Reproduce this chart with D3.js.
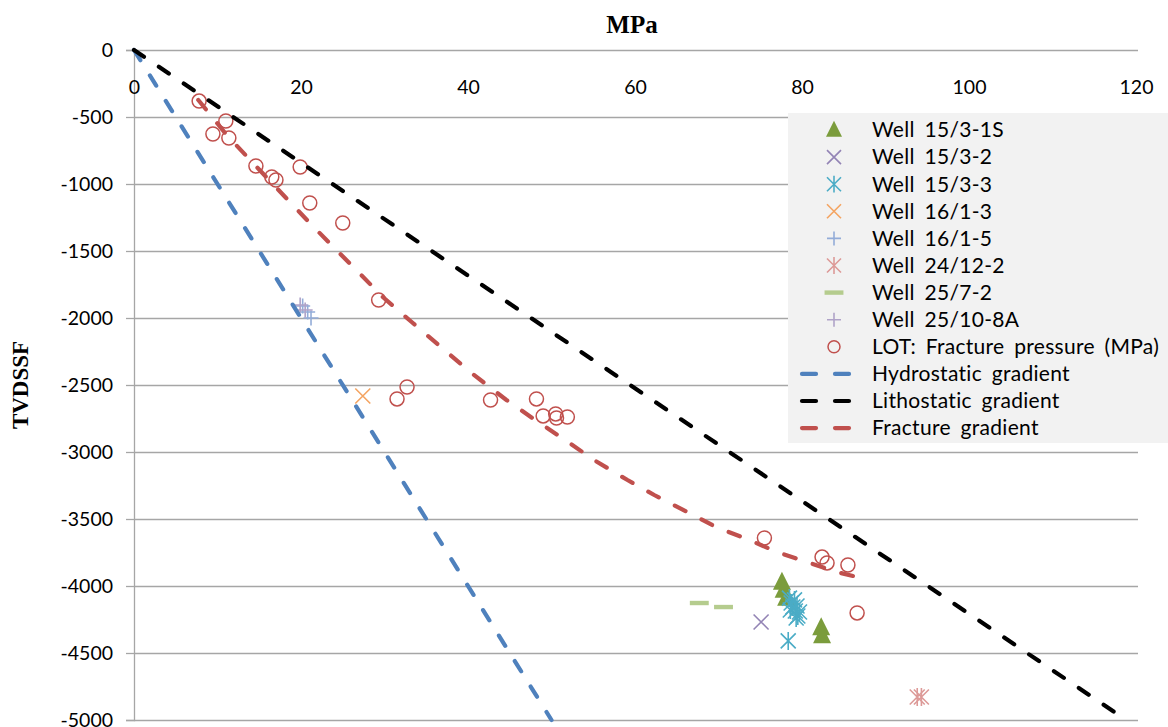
<!DOCTYPE html>
<html>
<head>
<meta charset="utf-8">
<script src="https://cdn.jsdelivr.net/npm/d3@7"></script>
<style>
  html, body { margin: 0; padding: 0; background: #fff; }
  svg { display: block; }
  .tick text { font-family: Lato, "Open Sans", sans-serif; font-size: 19.5px; fill: #000; }
  .legend text { font-family: Lato, "Open Sans", sans-serif; font-size: 21px; letter-spacing: 0.3px; word-spacing: 4px; fill: #000; }
  .title { font-family: "Liberation Serif", "DejaVu Serif", serif; font-weight: bold; }
</style>
</head>
<body>
<svg id="chart" width="1168" height="727"></svg>
<script>
// Pressure (MPa) vs. true vertical depth below sea floor (m)

const xTicks = [0, 20, 40, 60, 80, 100, 120];
const yTicks = [0, -500, -1000, -1500, -2000, -2500, -3000, -3500, -4000, -4500, -5000];

// Well pressure measurements [MPa, TVDSSF]
const well15_3_1S = [[77.6, -3970], [77.8, -4030], [78.1, -4090], [82.3, -4310], [82.4, -4370]];
const well15_3_2 = [[75.1, -4269]];
const well15_3_3 = [[78.5, -4090], [78.7, -4127], [78.9, -4157], [79.2, -4187], [79.4, -4149],
                    [79.1, -4104], [79.5, -4224], [79.3, -4239], [78.6, -4179], [79.7, -4194],
                    [78.35, -4410]];
const well16_1_3 = [[27.4, -2582]];
const well16_1_5 = [[20.2, -1910], [20.8, -1955], [21.2, -2000]];
const well24_12_2 = [[93.8, -4828], [94.3, -4828]];
const well25_7_2 = [[67.7, -4127], [70.6, -4157]];
const well25_10_8A = [[19.9, -1903], [20.5, -1940]];

// Leak-off tests: fracture pressure [MPa, TVDSSF]
const lotFracture = [
  [7.8, -381], [11.0, -530], [9.45, -627], [11.36, -657], [14.6, -866], [16.5, -948],
  [17.0, -970], [19.9, -873], [21.05, -1142], [25.0, -1291], [29.3, -1866], [32.7, -2515],
  [31.5, -2604], [42.7, -2612], [48.2, -2604], [49.0, -2731], [50.5, -2716], [50.6, -2746],
  [51.9, -2739], [75.5, -3642], [82.4, -3784], [83.0, -3828], [85.5, -3843], [86.6, -4201]
];

// Gradient curves [MPa, TVDSSF]
const hydrostatic = [[0, 0], [50, -5000]];
const lithostatic = [[0, 0], [118, -4965]];
const fractureGradient = [
  [7.7, -373], [11.1, -634], [14.7, -873], [21.05, -1291], [29.8, -1843], [33.25, -2030],
  [37.6, -2261], [40.4, -2410], [44.6, -2612], [47.7, -2746], [52.15, -2933], [55.1, -3060],
  [59.1, -3209], [62.3, -3321], [66.5, -3455], [69.7, -3560], [73.4, -3649], [77.0, -3746],
  [80.9, -3828], [84.2, -3896], [86.6, -3933]
];

const svg = d3.select("#chart");
const x = d3.scaleLinear().domain([0, 120]).range([134, 1136]);
const y = d3.scaleLinear().domain([0, -5000]).range([50, 720]);

// horizontal gridlines
svg.append("g")
  .attr("transform", `translate(${x(0)},0)`)
  .call(d3.axisLeft(y).tickValues(yTicks).tickSize(-(x(120) - x(0) + 2)).tickFormat(""))
  .call(g => g.select(".domain").remove())
  .call(g => g.selectAll(".tick line").attr("stroke", "#a6a6a6").attr("stroke-width", 1.3));

// y axis with labels
svg.append("g")
  .attr("transform", `translate(${x(0)},0)`)
  .call(d3.axisLeft(y).tickValues(yTicks).tickSize(8).tickPadding(13).tickFormat(d => String(d)))
  .call(g => g.select(".domain").attr("stroke", "#a6a6a6").attr("stroke-width", 1.3))
  .call(g => g.selectAll(".tick line").attr("stroke", "#a6a6a6").attr("stroke-width", 1.3));

// x axis labels, placed just under the top axis line
svg.append("g")
  .attr("transform", `translate(0,${y(0)})`)
  .call(d3.axisBottom(x).tickValues(xTicks).tickSize(0).tickPadding(30).tickFormat(d => String(d)))
  .call(g => g.select(".domain").remove());

svg.append("text").attr("class", "title").style("font-size", "25px")
  .attr("x", 632).attr("y", 33).attr("text-anchor", "middle").text("MPa");
svg.append("text").attr("class", "title").style("font-size", "23px")
  .attr("transform", `translate(28,${(y(0) + y(-5000)) / 2}) rotate(-90)`)
  .attr("text-anchor", "middle").text("TVDSSF");

// marker shapes
function marker(sel, type, color, s) {
  const h = s / 2;
  if (type === "triangle") {
    sel.append("path").attr("d", `M0,${-h * 1.15}L${h},${h * 0.85}L${-h},${h * 0.85}Z`).attr("fill", color);
  } else if (type === "x") {
    sel.append("path").attr("d", `M${-h},${-h}L${h},${h}M${-h},${h}L${h},${-h}`)
      .attr("stroke", color).attr("stroke-width", 1.6);
  } else if (type === "star") {
    sel.append("path").attr("d", `M${-h},${-h}L${h},${h}M${-h},${h}L${h},${-h}M0,${-h * 1.2}L0,${h * 1.2}`)
      .attr("stroke", color).attr("stroke-width", 1.6);
  } else if (type === "plus") {
    sel.append("path").attr("d", `M${-h},0L${h},0M0,${-h}L0,${h}`)
      .attr("stroke", color).attr("stroke-width", 1.6);
  } else if (type === "dash") {
    sel.append("rect").attr("x", -h * 1.35).attr("y", -2.2).attr("width", h * 2.7).attr("height", 4.4).attr("fill", color);
  } else if (type === "circle") {
    sel.append("circle").attr("r", h).attr("fill", "none").attr("stroke", color).attr("stroke-width", 1.5);
  }
}

const pointSeries = [
  { name: "Well 15/3-1S", data: well15_3_1S, type: "triangle", color: "#7b9c3c", size: 18 },
  { name: "Well 15/3-2", data: well15_3_2, type: "x", color: "#9384b5", size: 15 },
  { name: "Well 15/3-3", data: well15_3_3, type: "star", color: "#4bacc6", size: 15 },
  { name: "Well 16/1-3", data: well16_1_3, type: "x", color: "#f4a462", size: 15 },
  { name: "Well 16/1-5", data: well16_1_5, type: "plus", color: "#93acd8", size: 15 },
  { name: "Well 24/12-2", data: well24_12_2, type: "star", color: "#dd9a98", size: 15 },
  { name: "Well 25/7-2", data: well25_7_2, type: "dash", color: "#b5cc8e", size: 14 },
  { name: "Well 25/10-8A", data: well25_10_8A, type: "plus", color: "#b0a3c8", size: 15 },
  { name: "LOT: Fracture pressure (MPa)", data: lotFracture, type: "circle", color: "#c0504d", size: 14 }
];

const lineSeries = [
  { name: "Hydrostatic gradient", data: hydrostatic, color: "#4f81bd" },
  { name: "Lithostatic gradient", data: lithostatic, color: "#000000" },
  { name: "Fracture gradient", data: fractureGradient, color: "#c0504d" }
];

const plot = svg.append("g");
pointSeries.forEach(s => {
  plot.append("g").selectAll("g").data(s.data).join("g")
    .attr("transform", d => `translate(${x(d[0])},${y(d[1])})`)
    .each(function () { marker(d3.select(this), s.type, s.color, s.size); });
});

const line = d3.line().x(d => x(d[0])).y(d => y(d[1]));
lineSeries.forEach(s => {
  plot.append("path").datum(s.data).attr("d", line)
    .attr("fill", "none").attr("stroke", s.color).attr("stroke-width", 4.2)
    .attr("stroke-linecap", "round").attr("stroke-dasharray", "12,18");
});

// legend
const legend = svg.append("g").attr("class", "legend");
legend.append("rect").attr("x", 788).attr("y", 113).attr("width", 380).attr("height", 330).attr("fill", "#f2f2f2");
const entries = pointSeries.map(s => ({ ...s, kind: "point" }))
  .concat(lineSeries.map(s => ({ ...s, kind: "line" })));
entries.forEach((e, i) => {
  const cy = 130 + i * 27.1;
  const g = legend.append("g").attr("transform", `translate(0,${cy})`);
  if (e.kind === "point") {
    const m = g.append("g").attr("transform", "translate(834,0)");
    marker(m, e.type, e.color, e.type === "circle" ? 12 : e.type === "triangle" ? 16 : 14);
  } else {
    g.append("line").attr("x1", 802).attr("x2", 816).attr("y1", 0).attr("y2", 0)
      .attr("stroke", e.color).attr("stroke-width", 4.2).attr("stroke-linecap", "round");
    g.append("line").attr("x1", 835).attr("x2", 849).attr("y1", 0).attr("y2", 0)
      .attr("stroke", e.color).attr("stroke-width", 4.2).attr("stroke-linecap", "round");
  }
  g.append("text").attr("x", 872).attr("y", 0).attr("dy", "0.35em").text(e.name);
});
</script>
</body>
</html>
